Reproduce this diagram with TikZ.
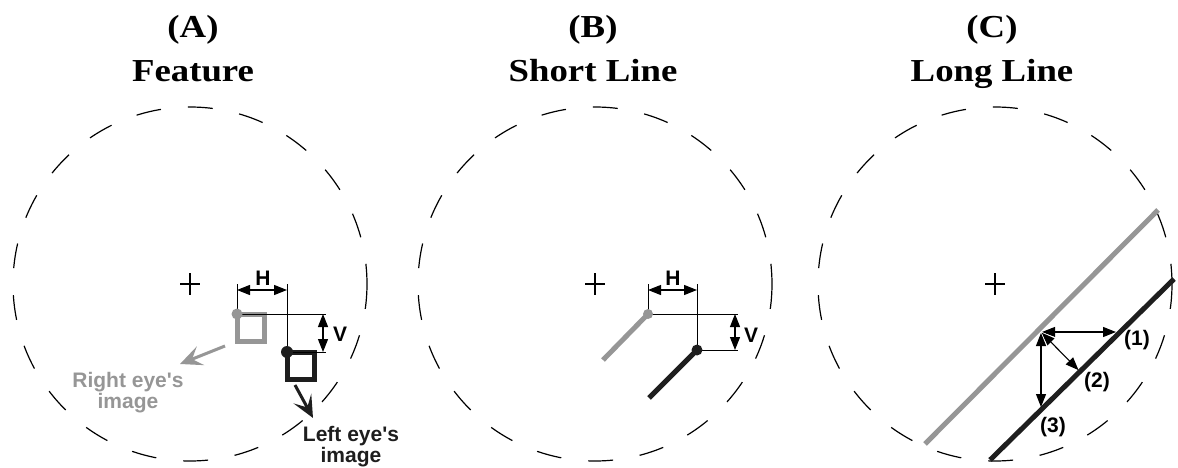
\documentclass[tikz,border=0pt]{standalone}
\usepackage{fontspec}
\setmainfont{Liberation Serif}
\newfontfamily\labfont{Liberation Sans}
\newfontfamily\ttlfont[FakeStretch=1.15]{Liberation Serif}
\usetikzlibrary{arrows.meta,calc}
\definecolor{eyegray}{RGB}{150,150,150}
\definecolor{eyeblack}{RGB}{30,30,30}
\begin{document}
\begin{tikzpicture}[x=1pt,y=-1pt,
    field/.style={dash pattern=on 25pt off 27pt,line width=1.2pt},
    fix/.style={line width=2pt},
    ext/.style={line width=1pt},
    dim/.style={line width=1.1pt,{Triangle[length=13pt,width=10pt]}-{Triangle[length=13pt,width=10pt]}},
    fan/.style={dim,shorten <=1pt,shorten >=2pt},
    fangap/.style={white,line width=1.1pt,{Triangle[length=15pt,width=14pt]}-,shorten <=0pt,shorten >=30pt},
    ttl/.style={font=\ttlfont\bfseries\fontsize{32}{40}\selectfont,anchor=base,inner sep=0pt},
    lab/.style={font=\labfont\bfseries\fontsize{21}{22}\selectfont,inner sep=0pt},
    eye/.style={font=\labfont\bfseries\fontsize{21}{21}\selectfont,align=center,inner sep=0pt}]
  \useasboundingbox (0,0) rectangle (1178,468);
  % titles
  \node[ttl] (tA) at (193,38) {(A)};\node[ttl] (nA) at (193,82) {Feature};
  \node[ttl] (tB) at (593,38) {(B)};\node[ttl] (nB) at (593,82) {Short Line};
  \node[ttl] (tC) at (992,38) {(C)};\node[ttl] (nC) at (992,82) {Long Line};
  % (A) feature
  \coordinate(cA)at(190,284);\coordinate(gA)at(237,314);\coordinate(bA)at(287,352);
  \coordinate(hA)at(262,284);\coordinate(vA)at(326,333);
  \draw[field] (cA) circle (177);
  \draw[fix] (cA) +(-10,0)--+(10,0) +(0,-11)--+(0,11);
  \draw[eyegray,line width=5pt] (gA) rectangle ++(27,27);
  \draw[eyeblack,line width=5pt] (bA) rectangle ++(27,27);
  \draw[ext] (gA)--(gA |- hA) (bA)--(bA |- hA) (gA)--(gA -| vA) (bA)--(bA -| vA);
  \fill[eyegray] (gA) circle (5.5);\fill[eyeblack] (bA) circle (6);
  \draw[dim] ($(gA |- hA)+(0,6)$)--($(bA |- hA)+(0,6)$);
  \draw[dim] ($(gA -| vA)+(-3,0)$)--($(bA -| vA)+(-3,0)$);
  \node[lab] (HA) at (263,278) {H};\node[lab] (VA) at (340,334) {V};
  \coordinate(ra)at(225,346);\coordinate(rb)at(180,364);
  \coordinate(la)at(295,385);\coordinate(lb)at(313,418);
  \draw[eyegray,line width=3pt,-{Stealth[length=22pt,width=20pt,inset=9pt]}] (ra)--(rb);
  \draw[eyeblack,line width=3pt,-{Stealth[length=22pt,width=20pt,inset=10pt]}] (la)--(lb);
  \node[eye,text=eyegray] (rimg) at (128,393) {Right eye's\\image};
  \node[eye,text=eyeblack] (limg) at (351,447) {Left eye's\\image};
  % (B) short line
  \coordinate(cB)at(595,284);\coordinate(gB)at(648,314);\coordinate(bB)at(697,350);
  \coordinate(gB2)at(603,360);\coordinate(bB2)at(649,398);
  \coordinate(hB)at(672,284);\coordinate(vB)at(738,333);
  \draw[field] (cB) circle (177);
  \draw[fix] (cB) +(-10,0)--+(10,0) +(0,-11)--+(0,11);
  \draw[eyegray,line width=5pt] (gB)--(gB2);
  \draw[eyeblack,line width=5pt] (bB)--(bB2);
  \draw[ext] (gB)--(gB |- hB) (bB)--(bB |- hB) (gB)--(gB -| vB) (bB)--(bB -| vB);
  \fill[eyegray] (gB) circle (5);\fill[eyeblack] (bB) circle (5.5);
  \draw[dim] ($(gB |- hB)+(0,6)$)--($(bB |- hB)+(0,6)$);
  \draw[dim] ($(gB -| vB)+(-3,0)$)--($(bB -| vB)+(-3,0)$);
  \node[lab] (HB) at (673,278) {H};\node[lab] (VB) at (751,335) {V};
  % (C) long line
  \coordinate(cC)at(995,284);\coordinate(g1)at(1158,210);\coordinate(g2)at(925,444);
  \coordinate(k1)at(1174,279);\coordinate(k2)at(990,460);\coordinate(P)at(1041,332);
  \coordinate(c1)at(1118,332);\coordinate(c2)at($(k1)!(P)!(k2)$);\coordinate(c3)at(1041,409);
  \draw[field] (cC) circle (177);
  \draw[fix] (cC) +(-10,0)--+(10,0) +(0,-11)--+(0,11);
  \draw[eyegray,line width=5pt] (g1)--(g2);
  \draw[eyeblack,line width=5pt] (k1)--(k2);
  \draw[fangap] (P)--(c1);\draw[fan] (P)--(c1);
  \draw[fangap] (P)--(c2);\draw[fan] (P)--(c2);
  \draw[fangap] (P)--(c3);\draw[fan] (P)--(c3);
  \node[lab] (d1) at (1137,340) {(1)};
  \node[lab] (d2) at (1097,382) {(2)};
  \node[lab] (d3) at (1053,427) {(3)};
\end{tikzpicture}
\end{document}
